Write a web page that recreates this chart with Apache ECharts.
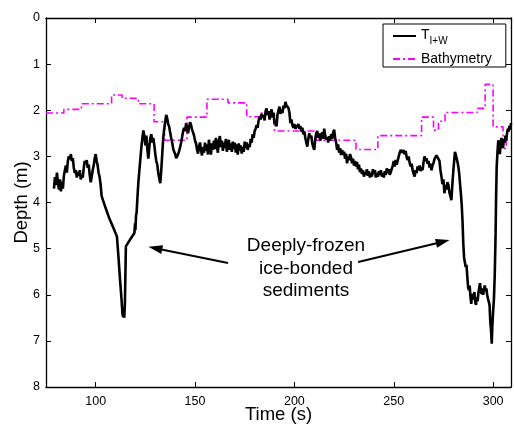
<!DOCTYPE html>
<html>
<head>
<meta charset="utf-8">
<script src="https://cdn.jsdelivr.net/npm/echarts@6/dist/echarts.min.js"></script>
<style>
  html, body { margin: 0; padding: 0; background: #fff; }
  #depth { width: 514px; height: 431px; }
</style>
</head>
<body>
<div id="depth"></div>
<script>
  // T(I+W) depth trace, [time s, depth m]
  var tiwPoints = [
    [79,3.70],[79.5,3.45],[80,3.62],[80.5,3.35],[81,3.55],[81.5,3.72],[82,3.50],[82.5,3.76],[83,3.55],[83.5,3.70],
    [84,3.42],[84.5,3.30],[85,3.20],[85.5,3.35],[86,3.10],[86.5,3.00],[87,3.06],[87.5,2.95],[88,3.10],[88.5,3.04],
    [89,3.25],[89.5,3.36],[90,3.30],[90.5,3.46],[91,3.34],[91.5,3.42],[92,3.30],[92.5,3.50],[93,3.40],[93.5,3.46],
    [94,3.25],[94.5,3.10],[95,3.15],[95.5,3.08],[96,3.25],[96.5,3.18],[97,3.40],[97.5,3.56],[98,3.44],[98.5,3.30],
    [99,3.20],[99.5,3.05],[100,2.95],[100.5,3.10],[101,3.20],[101.5,3.36],[102,3.45],[102.5,3.62],[103,3.86],
    [105,4.12],[107,4.36],[109,4.56],[110.7,4.74],[111.5,5.20],[112.3,5.70],[113,6.10],[113.5,6.42],[113.8,6.48],
    [114.1,6.40],[114.4,6.50],[114.7,6.20],[115.2,4.95],[116.5,4.86],[118,4.76],[119.5,4.66],[119.8,4.45],[120,4.60],
    [120.3,4.28],[120.6,4.22],[121,3.90],[121.5,3.55],[122,3.30],[122.5,3.05],[123,2.80],[123.5,2.60],[124,2.44],
    [124.5,2.56],[125,2.76],[125.5,2.55],[126,2.85],[126.5,3.05],[127,2.80],[127.5,2.60],[128,2.52],[128.5,2.70],
    [129,2.60],[129.5,2.75],[130,2.95],[130.5,3.10],[131,3.18],[131.5,3.36],[132,3.48],[132.5,3.58],[133,3.30],
    [133.5,2.95],[134,2.60],[134.5,2.40],[135,2.25],[135.5,2.10],[136,2.18],[136.5,2.30],[137,2.36],[137.5,2.49],
    [138,2.60],[138.5,2.70],[139,2.83],[139.5,2.90],[140,2.95],[140.5,3.04],[141,3.02],[141.5,2.95],[142,2.88],
    [142.5,2.80],[143,2.70],[143.5,2.58],[144,2.45],[144.5,2.38],[145,2.45],[145.5,2.28],[146,2.38],[146.5,2.50],
    [147,2.36],[147.5,2.26],[148,2.32],[148.5,2.42],[149,2.48],[149.5,2.55],[150,2.66],[150.5,2.72],[151,2.85],
    [151.5,2.94],[152,2.78],[152.5,2.70],[153,2.86],[153.5,2.98],[154,2.80],[154.5,2.92],[155,2.70],[155.5,2.88],
    [156,2.74],[156.5,2.96],[157,2.64],[157.5,2.82],[158,2.96],[158.5,2.72],[159,2.86],[159.5,2.66],[160,2.84],
    [160.5,2.60],[161,2.78],[161.5,2.92],[162,2.66],[162.5,2.56],[163,2.80],[163.5,2.66],[164,2.88],[164.5,2.70],
    [165,2.82],[165.5,2.62],[166,2.90],[166.5,2.74],[167,2.64],[167.5,2.86],[168,2.72],[168.5,2.90],[169,2.68],
    [169.5,2.84],[170,2.70],[170.5,2.92],[171,2.74],[171.5,2.96],[172,2.72],[172.5,2.88],[173,2.76],[173.5,2.94],
    [174,2.80],[174.5,2.90],[175,2.68],[175.5,2.82],[176,2.70],[176.5,2.86],[177,2.74],[177.5,2.80],[178,2.62],
    [178.5,2.70],[179,2.52],[179.5,2.60],[180,2.45],[180.5,2.40],[181,2.32],[181.5,2.38],[182,2.22],[182.5,2.14],
    [183,2.20],[183.5,2.08],[184,2.16],[184.5,2.10],[185,2.22],[185.5,2.02],[186,1.96],[186.5,2.10],[187,2.02],
    [187.5,2.20],[188,2.10],[188.5,1.98],[189,2.15],[189.5,2.05],[190,2.30],[190.5,2.25],[191,2.35],[191.5,2.10],
    [192,2.00],[192.5,1.92],[193,2.08],[193.5,1.98],[194,2.06],[194.5,1.90],[195,1.96],[195.5,1.82],[196,1.90],
    [196.5,1.86],[197,1.95],[197.5,2.05],[198,2.28],[198.5,2.20],[199,2.32],[199.5,2.38],[200,2.30],[200.5,2.40],
    [201,2.36],[201.5,2.44],[202,2.30],[202.5,2.40],[203,2.34],[203.5,2.46],[204,2.38],[204.5,2.52],[205,2.46],
    [205.5,2.60],[206,2.70],[206.5,2.79],[207,2.62],[207.5,2.50],[208,2.60],[208.5,2.55],[209,2.72],[209.5,2.80],
    [210,2.86],[210.5,2.62],[211,2.50],[211.5,2.45],[212,2.60],[212.5,2.50],[213,2.66],[213.5,2.55],[214,2.48],
    [214.5,2.62],[215,2.40],[215.5,2.55],[216,2.64],[216.5,2.58],[217,2.70],[217.5,2.56],[218,2.66],[218.5,2.52],
    [219,2.62],[219.5,2.48],[220,2.42],[220.5,2.60],[221,2.70],[221.5,2.86],[222,2.74],[222.5,2.92],[223,2.82],
    [223.5,2.97],[224,2.86],[224.5,2.96],[225,2.90],[225.5,3.05],[226,2.94],[226.5,3.15],[227,3.00],[227.5,3.08],
    [228,2.95],[228.5,3.02],[229,3.15],[229.5,3.05],[230,3.20],[230.5,3.10],[231,3.22],[231.5,3.12],[232,3.28],
    [232.5,3.18],[233,3.34],[233.5,3.26],[234,3.38],[234.5,3.30],[235,3.44],[235.5,3.34],[236,3.40],[236.5,3.28],
    [237,3.42],[237.5,3.32],[238,3.46],[238.5,3.36],[239,3.44],[239.5,3.28],[240,3.38],[240.5,3.30],[241,3.46],
    [241.5,3.36],[242,3.44],[242.5,3.32],[243,3.40],[243.5,3.30],[244,3.44],[244.5,3.36],[245,3.46],[245.5,3.32],
    [246,3.40],[246.5,3.26],[247,3.36],[247.5,3.28],[248,3.40],[248.5,3.34],[249,3.38],[249.5,3.20],[250,3.10],
    [250.5,3.22],[251,3.08],[251.5,3.18],[252,3.14],[252.5,3.00],[253,2.92],[253.5,2.86],[254,2.82],[254.5,2.92],
    [255,2.86],[255.5,2.96],[256,2.88],[256.5,3.02],[257,3.08],[257.5,3.00],[258,3.14],[258.5,3.22],[259,3.16],
    [259.5,3.30],[260,3.38],[260.5,3.44],[261,3.30],[261.5,3.36],[262,3.22],[262.5,3.30],[263,3.20],[263.5,3.32],
    [264,3.24],[264.5,3.30],[265,3.12],[265.5,3.00],[266,3.10],[266.5,3.04],[267,3.16],[267.5,3.10],[268,3.24],
    [268.5,3.16],[269,3.30],[269.5,3.20],[270,3.14],[270.5,3.06],[271,3.10],[271.5,2.98],[272,2.94],[272.5,2.96],
    [273,3.10],[273.5,3.30],[274,3.44],[274.5,3.60],[275,3.50],[275.5,3.80],[276,3.62],[276.5,3.72],[277,3.56],
    [277.5,3.62],[278,3.78],[278.5,3.86],[279,3.95],[279.5,3.60],[280,3.30],[280.5,3.05],[280.8,2.90],[281.2,2.96],
    [281.7,3.05],[282.2,3.15],[282.6,3.25],[283,3.40],[283.4,3.62],[283.8,3.82],[284.2,4.05],[284.6,4.40],[285,4.90],
    [285.4,5.20],[285.8,5.18],[286.2,5.40],[286.6,5.35],[287,5.60],[287.4,5.83],[287.8,5.90],[288.2,5.80],[288.6,6.05],
    [289,6.20],[289.4,5.98],[289.8,6.10],[290.2,6.02],[290.6,5.94],[291,6.16],[291.4,6.22],[291.8,6.05],[292.2,6.14],
    [292.6,5.96],[293,5.85],[293.4,5.75],[293.8,5.92],[294.2,5.98],[294.6,5.86],[295,6.00],[295.4,5.88],[295.8,5.80],
    [296.2,5.92],[296.6,5.86],[297,6.00],[297.4,6.08],[297.8,6.15],[298.2,6.22],[298.6,6.60],[299,6.80],[299.3,7.06],
    [299.6,6.70],[300,6.36],[300.4,6.10],[300.8,5.60],[301.2,4.80],[301.5,3.90],[301.8,3.22],[302.2,2.90],[302.6,2.65],
    [303,2.80],[303.4,2.95],[303.8,2.70],[304.2,2.60],[304.6,2.76],[305,2.82],[305.4,2.62],[305.8,2.70],[306.2,2.55],
    [306.6,2.66],[307,2.50],[307.4,2.40],[307.8,2.46],[308.2,2.34],[308.6,2.42],[309,2.28]
  ];

  // bathymetry steps, [start time s, depth m]
  var bathyPoints = [
    [75,2.06],[84,1.98],[92.8,1.86],[108,1.67],[113.3,1.74],[121.5,1.86],[129.4,2.25],[134.7,2.65],
    [145.9,2.15],[156,1.76],[166.6,1.84],[176,2.14],[182.7,2.06],[190,2.45],[211,2.65],[231,2.85],
    [242,2.55],[264,2.15],[270,2.43],[272.5,2.24],[275.8,2.05],[292,1.96],[296,1.44],[300,2.36],
    [305,2.83],[306.6,2.65],[309,2.65]
  ];

  var seriesNames = ['TIW', 'Bathymetry'];
  var noteLines = ['Deeply-frozen', 'ice-bonded', 'sediments'];
  // arrows, [from, to] in [time, depth]
  var arrowPairs = [
    [[166.6, 5.31], [130.0, 4.99]],
    [[232.1, 5.29], [274.7, 4.85]]
  ];

  var font = 'Liberation Sans';
  var chart = echarts.init(document.getElementById('depth'));

  function boxAxis(extra) {
    var ax = {
      axisLine: { show: true, onZero: false, lineStyle: { color: '#000', width: 1.3 } },
      axisTick: { show: true, inside: true, length: 5, lineStyle: { color: '#000', width: 1 } },
      splitLine: { show: false },
      axisLabel: { show: false }
    };
    for (var k in extra) ax[k] = extra[k];
    return ax;
  }

  chart.setOption({
    animation: false,
    grid: { left: 46, right: 3, top: 18, bottom: 44, outerBoundsMode: 'none' },
    legend: {
      data: seriesNames,
      orient: 'vertical',
      left: 383,
      top: 24,
      padding: [2, 14, 1, 9],
      itemGap: 6,
      itemWidth: 23,
      itemHeight: 14,
      borderColor: '#000',
      borderWidth: 1,
      backgroundColor: '#fff',
      itemStyle: { opacity: 0 },
      formatter: function (name) {
        return name === 'TIW' ? '{t|T}{s|I+W}' : '{b|' + name + '}';
      },
      textStyle: {
        fontFamily: font,
        color: '#000',
        rich: {
          t: { fontSize: 14, fontFamily: font, lineHeight: 20, verticalAlign: 'top', padding: [2, 0, 0, 0] },
          s: { fontSize: 10, fontFamily: font, lineHeight: 20, verticalAlign: 'bottom' },
          b: { fontSize: 14, fontFamily: font, lineHeight: 16 }
        }
      }
    },
    xAxis: [
      boxAxis({
        type: 'value', min: 75, max: 309, splitNumber: 5, position: 'bottom',
        name: 'Time (s)', nameLocation: 'middle', nameGap: 18, nameMoveOverlap: false,
        nameTextStyle: { fontFamily: font, fontSize: 18.5, color: '#000' },
        axisLabel: {
          show: true, showMinLabel: false, showMaxLabel: false, margin: 8,
          fontFamily: font, fontSize: 12.5, color: '#000'
        }
      }),
      boxAxis({ type: 'value', min: 75, max: 309, splitNumber: 5, position: 'top' })
    ],
    yAxis: [
      boxAxis({
        type: 'value', min: 0, max: 8, interval: 1, inverse: true, position: 'left',
        name: 'Depth (m)', nameLocation: 'middle', nameGap: 15, nameMoveOverlap: false,
        nameTextStyle: { fontFamily: font, fontSize: 18.5, color: '#000' },
        axisLabel: { show: true, margin: 6, fontFamily: font, fontSize: 12.5, color: '#000' }
      }),
      boxAxis({ type: 'value', min: 0, max: 8, interval: 1, inverse: true, position: 'right' })
    ],
    graphic: [{
      type: 'text',
      x: 306,
      y: 268.5,
      silent: true,
      style: {
        text: noteLines.join('\n'),
        fontFamily: font,
        fontSize: 19,
        lineHeight: 22.5,
        fill: '#000',
        align: 'center',
        verticalAlign: 'middle'
      }
    }],
    series: [
      {
        name: 'Bathymetry',
        type: 'line',
        step: 'end',
        symbol: 'none',
        z: 3,
        lineStyle: { color: '#ff00ff', width: 1.6, type: [7, 3, 2, 3] },
        itemStyle: { color: '#ff00ff' },
        data: bathyPoints
      },
      {
        name: 'TIW',
        type: 'line',
        symbol: 'none',
        z: 4,
        lineStyle: { color: '#000', width: 2.6 },
        itemStyle: { color: '#000' },
        data: tiwPoints
      },
      {
        name: 'arrows',
        type: 'line',
        data: [],
        markLine: {
          silent: true,
          symbol: ['none', 'triangle'],
          symbolSize: [9, 14],
          label: { show: false },
          lineStyle: { color: '#000', width: 2, type: 'solid' },
          itemStyle: { color: '#000' },
          data: arrowPairs.map(function (p) {
            return [{ coord: p[0] }, { coord: p[1] }];
          })
        }
      }
    ]
  });
</script>
</body>
</html>
